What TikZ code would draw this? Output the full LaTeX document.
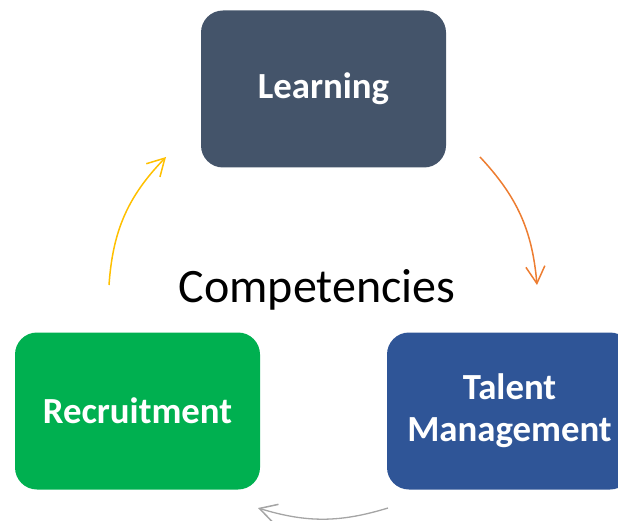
\documentclass[tikz,border=0pt]{standalone}
\usepackage{fontspec}
\setmainfont{Carlito}
\usetikzlibrary{arrows.meta}
\definecolor{learnblue}{HTML}{44546A}
\definecolor{recgreen}{HTML}{00B050}
\definecolor{talentblue}{HTML}{2F5597}
\definecolor{arrorange}{HTML}{ED7D31}
\definecolor{arryellow}{HTML}{FFC000}
\definecolor{arrgray}{HTML}{A5A5A5}
\begin{document}
\begin{tikzpicture}[x=1pt,y=-1pt,
  stage/.style={rounded corners=22pt, minimum width=245pt, minimum height=157pt,
    inner sep=0pt, text=white, align=center,
    font=\bfseries\fontsize{36.8}{42}\selectfont},
  cyclearrow/.style={line width=1.5pt, -{Straight Barb[length=17pt,width=19pt,line width=1.5pt]}}
]
\useasboundingbox (0,0) rectangle (618,521);

% the three stages
\node[stage, fill=learnblue] (learning) at (323.5,89) {Learning};
\node[stage, fill=recgreen] (recruit) at (137.5,411) {Recruitment};
\node[stage, fill=talentblue] (talent) at (509.5,411) {Talent\\Management};

% centre label
\node[font=\fontsize{48}{56}\selectfont, inner sep=0pt] (comp) at (317,290) {Competencies};

% arrow end points
\coordinate (o1) at (480,157);
\coordinate (o2) at (537,285);
\coordinate (g1) at (388,508);
\coordinate (g2) at (258,508);
\coordinate (y1) at (109,285);
\coordinate (y2) at (166,157);

% cycle arrows
\draw[cyclearrow, arrorange] (o1) to[bend left=19] (o2);
\draw[cyclearrow, arrgray, line width=1.3pt] (g1) to[bend left=17] (g2);
\draw[cyclearrow, arryellow] (y1) to[bend left=20] (y2);
\end{tikzpicture}
\end{document}
